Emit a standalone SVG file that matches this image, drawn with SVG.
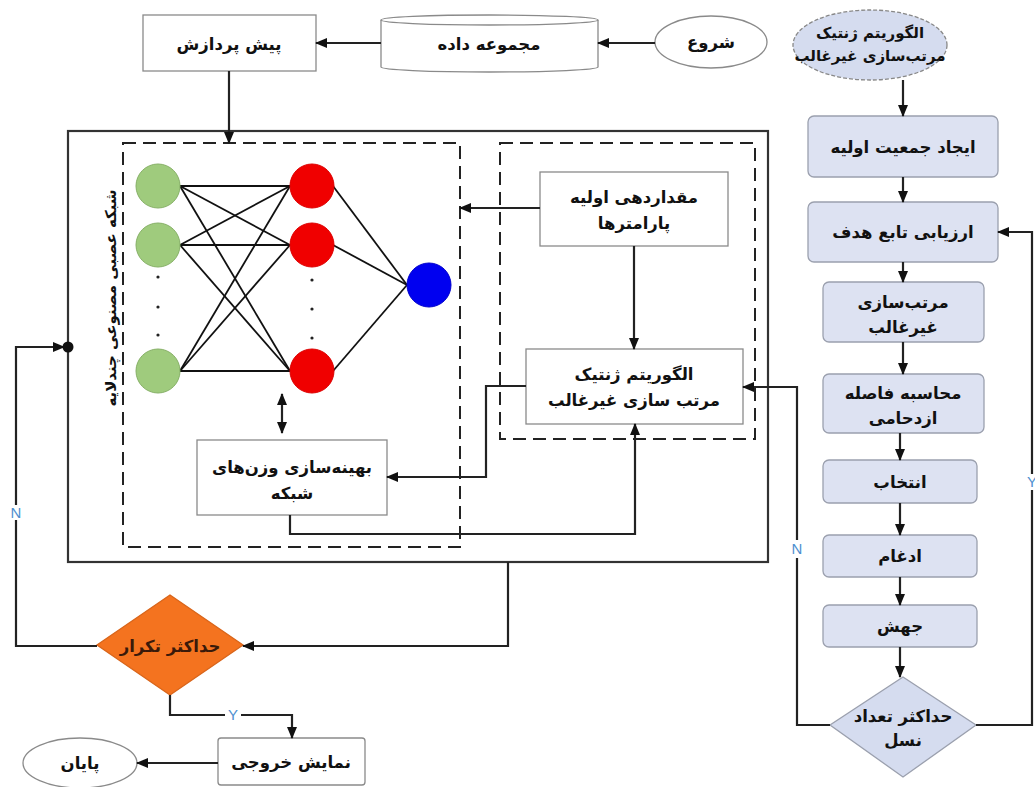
<svg xmlns="http://www.w3.org/2000/svg" width="1035" height="787" viewBox="0 0 1035 787">
<defs>
<marker id="ah" markerWidth="12" markerHeight="10" refX="11" refY="5" orient="auto" markerUnits="userSpaceOnUse">
<path d="M0,0 L12,5 L0,10 Z" fill="#111"/>
</marker>
<marker id="ahs" markerWidth="12" markerHeight="10" refX="1" refY="5" orient="auto" markerUnits="userSpaceOnUse">
<path d="M12,0 L0,5 L12,10 Z" fill="#111"/>
</marker>
<style>
.t{font-family:"DejaVu Sans",sans-serif;font-weight:bold;font-size:16.5px;fill:#111;text-anchor:middle;direction:rtl}
.box{fill:#fff;stroke:#8a8a8a;stroke-width:1.3}
.gbox{fill:#dde2f2;stroke:#9ba0ae;stroke-width:1.3}
.ln{fill:none;stroke:#222;stroke-width:2.2}
.ar{fill:none;stroke:#222;stroke-width:2.2;marker-end:url(#ah)}
.dash{fill:none;stroke:#222;stroke-width:2;stroke-dasharray:13 7}
.nn{stroke:#111;stroke-width:1.8}
.lbl{font-family:"Liberation Sans",sans-serif;font-size:15px;fill:#4f8fcf;text-anchor:middle}
</style>
</defs>

<!-- containers -->
<g id="main-frame">
<rect x="68" y="131" width="700" height="431" fill="none" stroke="#333" stroke-width="2.2"/>
<rect x="123" y="143" width="337" height="404" class="dash"/>
<rect x="500" y="143" width="255" height="296" class="dash"/>
<text class="t" style="font-size:15px" transform="translate(116,298) rotate(-90)">شبکه عصبی مصنوعی چندلایه</text>
</g>

<!-- neural network -->
<g id="neural-net">
<g class="nn">
<line x1="180" y1="186" x2="290" y2="186"/><line x1="180" y1="186" x2="290" y2="245"/><line x1="180" y1="186" x2="290" y2="371"/>
<line x1="180" y1="245" x2="290" y2="186"/><line x1="180" y1="245" x2="290" y2="245"/><line x1="180" y1="245" x2="290" y2="371"/>
<line x1="180" y1="371" x2="290" y2="186"/><line x1="180" y1="371" x2="290" y2="245"/><line x1="180" y1="371" x2="290" y2="371"/>
<line x1="333" y1="186" x2="407" y2="285"/><line x1="333" y1="245" x2="407" y2="285"/><line x1="333" y1="371" x2="407" y2="285"/>
</g>
<circle cx="158" cy="186" r="22" fill="#9fcb7d" stroke="#86b066"/>
<circle cx="158" cy="245" r="22" fill="#9fcb7d" stroke="#86b066"/>
<circle cx="158" cy="371" r="22" fill="#9fcb7d" stroke="#86b066"/>
<circle cx="312" cy="186" r="22" fill="#f00000" stroke="#d00"/>
<circle cx="312" cy="245" r="22" fill="#f00000" stroke="#d00"/>
<circle cx="312" cy="371" r="22" fill="#f00000" stroke="#d00"/>
<circle cx="429" cy="285" r="22" fill="#0000f0" stroke="#00c"/>
<g fill="#222">
<circle cx="158" cy="277" r="1.6"/><circle cx="158" cy="307" r="1.6"/><circle cx="158" cy="335" r="1.6"/>
<circle cx="312" cy="280" r="1.6"/><circle cx="312" cy="309" r="1.6"/><circle cx="312" cy="338" r="1.6"/>
</g>
</g>

<!-- left nodes -->
<g id="preprocess"><rect class="box" x="143" y="15" width="173" height="56"/><text class="t" x="229" y="50">پیش پردازش</text></g>
<g id="dataset">
<path d="M381,20 A108.5,5 0 0 1 598,20 L598,67 A108.5,5 0 0 1 381,67 Z" fill="#fff" stroke="#8a8a8a" stroke-width="1.3"/>
<path d="M381,20 A108.5,5 0 0 0 598,20" fill="none" stroke="#8a8a8a" stroke-width="1.3"/>
<text class="t" x="489" y="50">مجموعه داده</text></g>
<g id="start"><ellipse cx="711" cy="42" rx="56" ry="26" fill="#fff" stroke="#8a8a8a" stroke-width="1.3"/><text class="t" x="711" y="48">شروع</text></g>
<g id="init-params"><rect class="box" x="540" y="172" width="188" height="74"/><text class="t" x="634" y="203">مقداردهی اولیه</text><text class="t" x="634" y="229">پارامترها</text></g>
<g id="nsga-box"><rect class="box" x="526" y="349" width="217" height="75"/><text class="t" x="634" y="380">الگوریتم ژنتیک</text><text class="t" x="634" y="406">مرتب سازی غیرغالب</text></g>
<g id="opt-weights"><rect class="box" x="197" y="440" width="190" height="75"/><text class="t" x="292" y="473">بهینه‌سازی وزن‌های</text><text class="t" x="292" y="499">شبکه</text></g>
<g id="max-iter"><path d="M170,595 L243,645 L170,695 L97,645 Z" fill="#f4731f" stroke="#d9651a" stroke-width="1.3"/><text class="t" x="170" y="652" style="fill:#3a1a0a">حداکثر تکرار</text></g>
<g id="output"><rect class="box" x="218" y="738" width="147" height="47" rx="3"/><text class="t" x="291" y="768">نمایش خروجی</text></g>
<g id="end"><ellipse cx="80" cy="763" rx="57" ry="25" fill="#fff" stroke="#8a8a8a" stroke-width="1.3"/><text class="t" x="80" y="769">پایان</text></g>

<!-- right flowchart -->
<g id="ga-title"><ellipse cx="870" cy="45" rx="77" ry="35" fill="#d5dcef" stroke="#888" stroke-width="1.3" stroke-dasharray="4 2"/><text class="t" x="870" y="38" style="font-size:15px">الگوریتم ژنتیک</text><text class="t" x="870" y="61" style="font-size:15px">مرتب‌سازی غیرغالب</text></g>
<g id="init-pop"><rect class="gbox" x="808" y="116" width="190" height="61" rx="6"/><text class="t" x="903" y="153">ایجاد جمعیت اولیه</text></g>
<g id="evaluate"><rect class="gbox" x="808" y="202" width="190" height="60" rx="6"/><text class="t" x="903" y="238">ارزیابی تابع هدف</text></g>
<g id="nd-sort"><rect class="gbox" x="823" y="282" width="161" height="60" rx="6"/><text class="t" x="903" y="308">مرتب‌سازی</text><text class="t" x="903" y="333">غیرغالب</text></g>
<g id="crowding"><rect class="gbox" x="823" y="374" width="161" height="59" rx="6"/><text class="t" x="903" y="399">محاسبه فاصله</text><text class="t" x="903" y="424">ازدحامی</text></g>
<g id="select"><rect class="gbox" x="823" y="460" width="154" height="43" rx="6"/><text class="t" x="900" y="488">انتخاب</text></g>
<g id="crossover"><rect class="gbox" x="823" y="535" width="154" height="42" rx="6"/><text class="t" x="900" y="562">ادغام</text></g>
<g id="mutation"><rect class="gbox" x="823" y="605" width="154" height="42" rx="6"/><text class="t" x="900" y="632">جهش</text></g>
<g id="max-gen"><path d="M903,677 L976,725 L903,777 L830,725 Z" fill="#d5dcef" stroke="#9ba0ae" stroke-width="1.3"/><text class="t" x="903" y="722">حداکثر تعداد</text><text class="t" x="903" y="746">نسل</text></g>

<!-- connectors -->
<g id="connectors">
<line class="ar" x1="381" y1="43" x2="316" y2="43"/>
<line class="ar" x1="655" y1="43" x2="598" y2="43"/>
<line class="ar" x1="229" y1="71" x2="229" y2="143"/>
<line class="ar" x1="540" y1="208" x2="460" y2="208"/>
<line class="ar" x1="634" y1="246" x2="634" y2="349"/>
<polyline class="ar" points="526,386 486,386 486,477 387,477"/>
<polyline class="ar" points="290,515 290,534 635,534 635,424"/>
<line class="ln" x1="282" y1="394" x2="282" y2="433" marker-start="url(#ahs)" marker-end="url(#ah)"/>
<polyline class="ar" points="508,562 508,646 243,646"/>
<polyline class="ln" points="97,646 16,646 16,520"/>
<polyline class="ar" points="16,505 16,347 64,347"/>
<circle cx="68" cy="347" r="5.5" fill="#111"/>
<text class="lbl" x="16" y="518">N</text>
<polyline class="ln" points="170,695 170,715 225,715"/>
<polyline class="ar" points="241,715 292,715 292,738"/>
<text class="lbl" x="233" y="720">Y</text>
<line class="ar" x1="218" y1="763" x2="137" y2="763"/>
<line class="ar" x1="903" y1="80" x2="903" y2="116"/>
<line class="ar" x1="903" y1="177" x2="903" y2="202"/>
<line class="ar" x1="903" y1="262" x2="903" y2="282"/>
<line class="ar" x1="903" y1="342" x2="903" y2="374"/>
<line class="ar" x1="900" y1="433" x2="900" y2="460"/>
<line class="ar" x1="900" y1="503" x2="900" y2="535"/>
<line class="ar" x1="900" y1="577" x2="900" y2="605"/>
<line class="ar" x1="900" y1="647" x2="900" y2="677"/>
<polyline class="ln" points="830,725 797,725 797,558"/>
<polyline class="ar" points="797,540 797,387 743,387"/>
<text class="lbl" x="797" y="554">N</text>
<polyline class="ln" points="976,725 1032,725 1032,490"/>
<polyline class="ar" points="1032,474 1032,232 998,232"/>
<text class="lbl" x="1032" y="487">Y</text>
</g>
</svg>
